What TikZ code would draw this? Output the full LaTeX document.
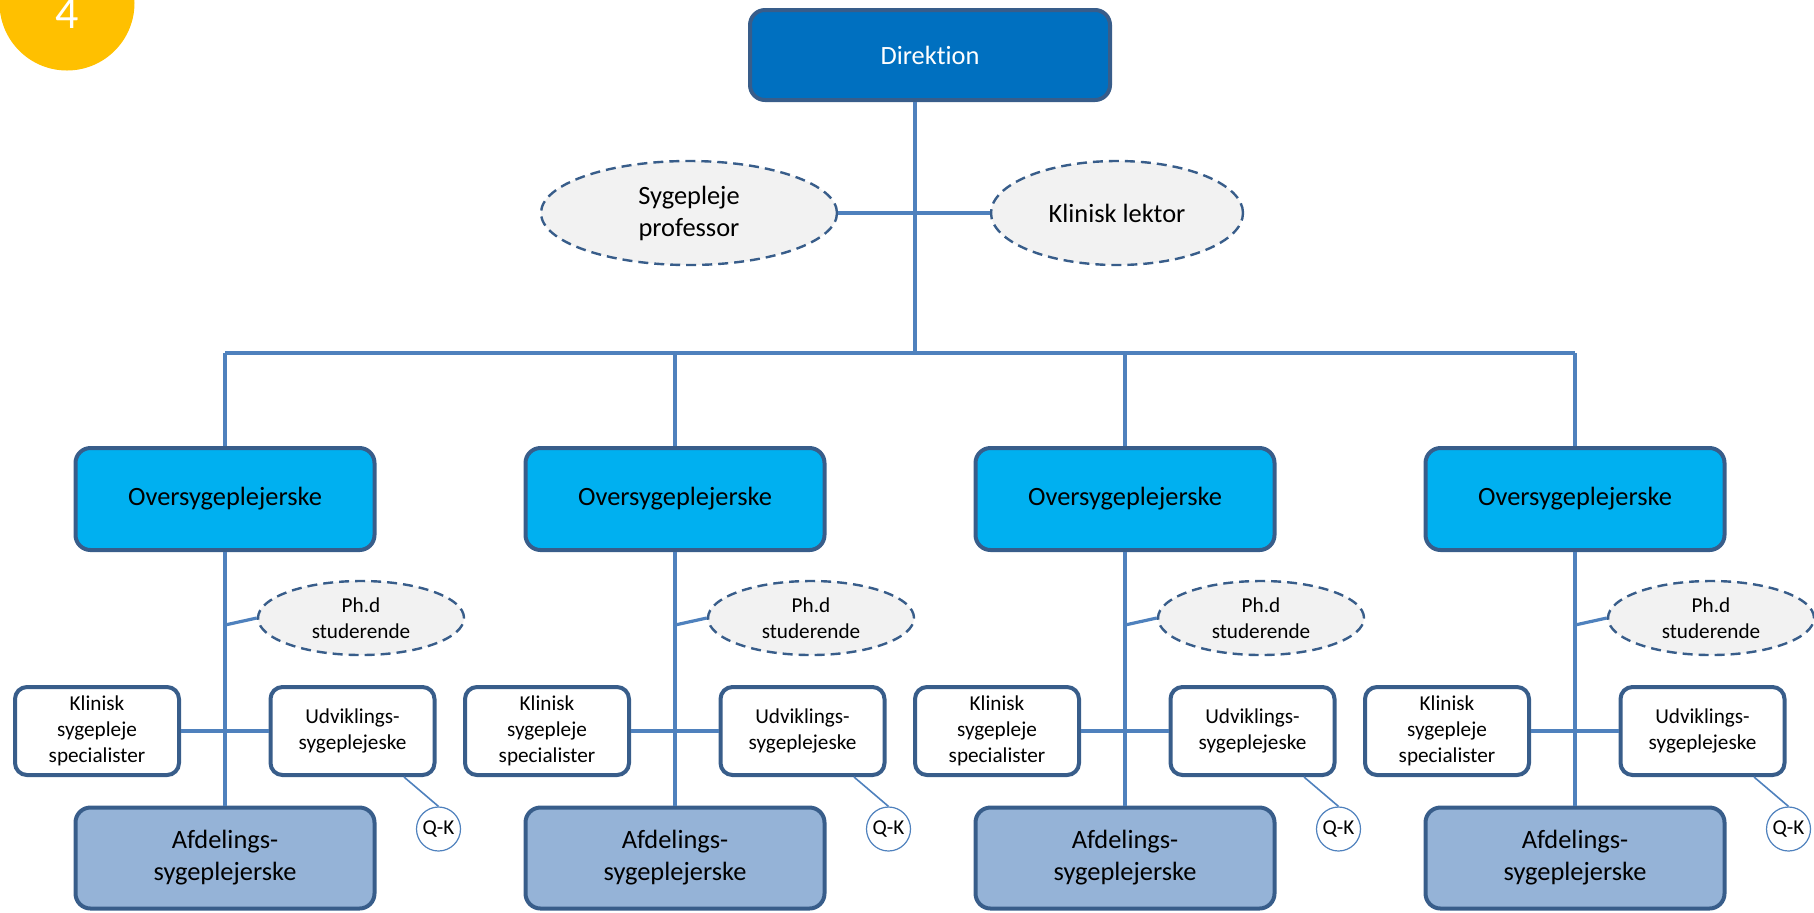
\documentclass[tikz,border=0pt]{standalone}
\usepackage{fontspec}
\setmainfont{Carlito}[Ligatures = {NoCommon, NoRequired, NoContextual}]
\usetikzlibrary{positioning, shapes.geometric, calc}

\definecolor{frame}{HTML}{385D8A}
\definecolor{wire}{HTML}{4F81BD}
\definecolor{topblue}{HTML}{0070C0}
\definecolor{midblue}{HTML}{00B0F0}
\definecolor{lowblue}{HTML}{95B3D7}
\definecolor{guestgray}{HTML}{F2F2F2}
\definecolor{badgeyellow}{HTML}{FFC000}

\tikzset{node distance = 60pt, on grid,
         bigfont/.style = {font = \fontsize{13.2}{16}\selectfont},
         smallfont/.style = {font = \fontsize{10.6}{13}\selectfont},
         box/.style = {rectangle, rounded corners = 7.5pt, draw = frame,
                       line width = 2pt, align = center},
         boss/.style = {box, bigfont, fill = topblue, text = white,
                        minimum width = 180pt, minimum height = 45pt},
         lead/.style = {box, bigfont, fill = midblue,
                        minimum width = 149.5pt, minimum height = 51pt},
         ward/.style = {box, bigfont, fill = lowblue,
                        minimum width = 149.5pt, minimum height = 50.5pt},
         staff/.style = {box, smallfont, fill = white, rounded corners = 6pt,
                         minimum width = 82pt, minimum height = 44pt},
         guest/.style = {ellipse, draw = frame, fill = guestgray, align = center,
                         line width = 1.2pt, dash pattern = on 5pt off 3pt,
                         inner sep = 0pt},
         tag/.style = {circle, draw = wire, fill = white, line width = 0.6pt,
                       smallfont, minimum size = 22pt, inner sep = 0pt},
         link/.style = {draw = wire, line width = 1.6pt},
         thinlink/.style = {draw = wire, line width = 0.8pt}}

\begin{document}
\begin{tikzpicture}[x = 0.5pt, y = -0.5pt]
    \useasboundingbox (0,0) rectangle (1814,912);

    % badge in the corner
    \fill[badgeyellow] (67,3) circle (33.75pt);
    \node[anchor = base, text = white, font = \fontsize{23}{27}\selectfont] (nr) at (67,28) {4};

    % top of the chart
    \node[boss] (dir) at (930,55) {Direktion};
    \node[guest, bigfont, minimum width = 148pt, minimum height = 52pt]
        (prof) [below left = 79pt and 120.5pt of dir] {Sygepleje\\professor};
    \node[guest, bigfont, minimum width = 126pt, minimum height = 52pt]
        (lekt) [below right = 79pt and 93.5pt of dir] {Klinisk lektor};

    \coordinate (bus) at (915,353);
    \draw[link] (dir.south -| bus) -- (bus);
    \draw[link] (prof.east) -- (lekt.west);

    % one column per Oversygeplejerske
    \foreach \i/\x in {1/225, 2/675, 3/1125, 4/1575} {
        \node[lead]  (over\i) at (\x,499)                               {Oversygeplejerske};
        \node[guest, smallfont, minimum width = 103pt, minimum height = 37pt]
                     (phd\i)  [below right = 59.5pt and 68pt of over\i]     {Ph.d\\studerende};
        \node[staff] (klin\i) [below left = 116pt and 64pt of over\i]   {Klinisk\\sygepleje\\specialister};
        \node[staff] (udv\i)  [below right = 116pt and 63.75pt of over\i] {Udviklings-\\sygeplejeske};
        \node[ward]  (afd\i)  [below = 179.5pt of over\i]                 {Afdelings-\\sygeplejerske};
        \node[tag]   (qk\i)   [below right = 165pt and 106.75pt of over\i] {Q-K};

        \draw[link] (over\i.north) -- (over\i.north |- bus);
        \draw[link] (over\i.south) -- (afd\i.north);
        \draw[link] (over\i.south |- 0,625) -- (phd\i.west);
        \draw[link] (klin\i.east) -- (udv\i.west);
        \draw[thinlink] ($(udv\i.south) + (25.75pt,0)$) -- (qk\i.north);
    }

    \draw[link] (over1.north |- bus) -- (over4.north |- bus);
\end{tikzpicture}
\end{document}
